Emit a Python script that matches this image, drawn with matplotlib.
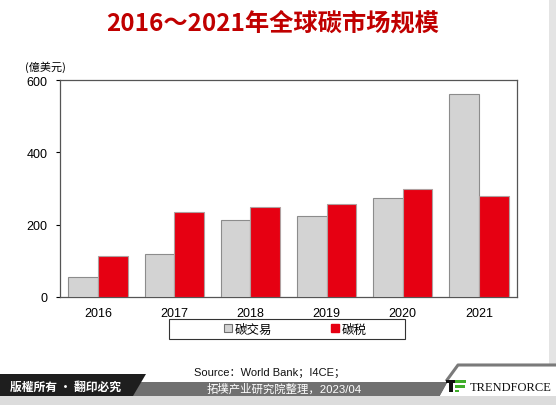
import matplotlib
matplotlib.use("Agg")
import matplotlib.pyplot as plt
import numpy as np
from matplotlib.patches import Polygon, Rectangle
from matplotlib.lines import Line2D

plt.rcParams["font.family"] = ["Liberation Sans", "Noto Sans CJK SC", "DejaVu Sans"]

years = ["2016", "2017", "2018", "2019", "2020", "2021"]
trading = [55, 119, 213, 224, 273, 561]
tax = [113, 235, 249, 257, 298, 279]
series_names = ["碳交易", "碳税"]
yticks = [0, 200, 400, 600]

W, H = 556, 406
fig = plt.figure(figsize=(W / 100, H / 100), dpi=100)
fig.patch.set_facecolor("white")


def px(x, y):
    return x / W, 1 - y / H


# right edge strip
fig.patches.append(Rectangle(px(549, 406), 7 / W, 1, transform=fig.transFigure,
                             facecolor="#e4e4e4", edgecolor="none", zorder=1))

l, b = px(60, 298)
r, t = px(517, 81)
ax = fig.add_axes([l, b, r - l, t - b])
ax.patch.set_alpha(0)

x = np.arange(len(years))
w = 0.39
ax.bar(x - w / 2, trading, width=w, color="#d3d3d3", edgecolor="#8c8c8c", linewidth=0.8, zorder=3)
ax.bar(x + w / 2, tax, width=w, color="#e60012", edgecolor="#b0a0a0", linewidth=0.8, zorder=3)

ax.set_xlim(-0.5, len(years) - 0.5)
ax.set_ylim(0, 600)
ax.set_yticks(yticks)
ax.set_xticks(x)
ax.set_xticklabels(years)
ax.tick_params(axis="x", length=0, pad=7, labelsize=9)
ax.tick_params(axis="y", length=3, width=0.8, direction="out", labelsize=9, pad=6)
for s in ax.spines.values():
    s.set_color("#555555")
    s.set_linewidth(0.9)

fig.text(*px(25, 67), "(億美元)", fontsize=8, ha="left", va="center",
         family=["Noto Sans CJK TC", "DejaVu Sans"])

# title
fig.text(*px(273, 23), "2016～2021年全球碳市场规模", fontsize=17.5, fontweight="bold",
         color="#c00000", ha="center", va="center",
         family=["Noto Sans CJK SC", "DejaVu Sans"])

# legend: box drawn by hand, entries centred inside
fig.patches.append(Rectangle(px(169, 340), 236 / W, 20 / H, transform=fig.transFigure,
                             facecolor="white", edgecolor="#333333", linewidth=0.8, zorder=4))
handles = [
    Line2D([], [], marker="s", linestyle="none", markersize=6, markerfacecolor="#d3d3d3",
           markeredgecolor="#707070", markeredgewidth=0.8),
    Line2D([], [], marker="s", linestyle="none", markersize=6, markerfacecolor="#e60012",
           markeredgecolor="#e60012"),
]
leg = fig.legend(handles, series_names, loc="center", ncol=2,
                 bbox_to_anchor=px(294, 330), frameon=False,
                 handletextpad=0.05, handlelength=1.0, columnspacing=4.5,
                 borderpad=0.2, prop={"family": ["Noto Sans CJK SC", "DejaVu Sans"], "size": 9})
leg.set_zorder(5)

# footer
fig.patches.append(Polygon([px(0, 397), px(556, 397), px(556, 406), px(0, 406)],
                           closed=True, transform=fig.transFigure,
                           facecolor="#dcdcdc", edgecolor="none", zorder=2))
fig.patches.append(Polygon([px(130, 383), px(448, 383), px(440, 397), px(130, 397)],
                           closed=True, transform=fig.transFigure,
                           facecolor="#707070", edgecolor="none", zorder=3))
fig.patches.append(Polygon([px(0, 375), px(146, 375), px(133, 397), px(0, 397)],
                           closed=True, transform=fig.transFigure,
                           facecolor="#1e1e1e", edgecolor="none", zorder=4))
fig.patches.append(Polygon([px(457, 366), px(556, 366), px(556, 397), px(440, 397)],
                           closed=True, transform=fig.transFigure,
                           facecolor="white", edgecolor="none", zorder=3))
fig.lines.append(Line2D([447 / W, 458 / W, 1], [1 - 381 / H, 1 - 366 / H, 1 - 366 / H],
                        transform=fig.transFigure, color="#7a7a7a", linewidth=2.2, zorder=4))

fig.text(*px(10, 387), "版權所有 · 翻印必究", fontsize=8.5, fontweight="bold", color="white",
         ha="left", va="center", zorder=5, family=["Noto Sans CJK TC", "DejaVu Sans"])
fig.text(*px(270, 373), "Source：World Bank；I4CE；", fontsize=8, color="#111111",
         ha="center", va="center", zorder=5,
         family=["Liberation Sans", "Noto Sans CJK SC", "DejaVu Sans"])
fig.text(*px(284, 389), "拓墣产业研究院整理，2023/04", fontsize=8.2, color="white",
         ha="center", va="center", zorder=5,
         family=["Liberation Sans", "Noto Sans CJK SC", "DejaVu Sans"])

# TrendForce logo
fig.patches.append(Rectangle(px(446, 384), 10 / W, 3 / H, transform=fig.transFigure,
                             facecolor="#111111", edgecolor="none", zorder=6))
fig.patches.append(Rectangle(px(449, 393), 4 / W, 9 / H, transform=fig.transFigure,
                             facecolor="#111111", edgecolor="none", zorder=6))
fig.patches.append(Rectangle(px(455, 384), 11 / W, 3 / H, transform=fig.transFigure,
                             facecolor="#3fae2a", edgecolor="none", zorder=6))
fig.patches.append(Rectangle(px(455, 389), 10 / W, 3 / H, transform=fig.transFigure,
                             facecolor="#3fae2a", edgecolor="none", zorder=6))
fig.patches.append(Rectangle(px(455, 393), 4 / W, 2 / H, transform=fig.transFigure,
                             facecolor="#3fae2a", edgecolor="none", zorder=6))
fig.text(*px(470, 388), "TRENDFORCE", fontsize=9, color="#111111", ha="left", va="center",
         zorder=6, family="Liberation Serif")

fig.savefig("out.png", dpi=100, facecolor=fig.get_facecolor())
